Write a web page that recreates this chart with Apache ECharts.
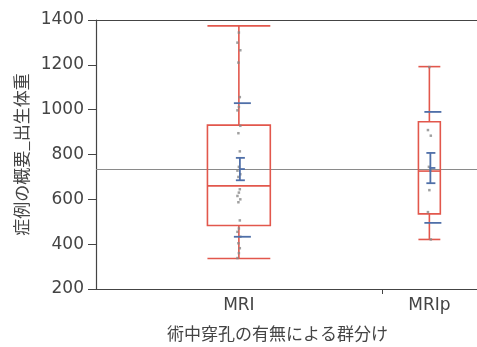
<!DOCTYPE html>
<html><head><meta charset="utf-8">
<script src="https://cdn.jsdelivr.net/npm/echarts@6/dist/echarts.min.js"></script>
<style>html,body{margin:0;padding:0;background:#fff}#c{width:477px;height:347px}</style>
</head><body><div id="c"></div>
<script>
// ---- data ----
const groups = ['MRI', 'MRIp'];
const groupSpan = [30, 10];               // relative group widths on x axis
// [min whisker, q1, median, q3, max whisker]
const boxMRI = [336, 483, 660, 931, 1374];
const boxMRIp = [421, 535, 726, 946, 1192];
const meanVals = [735, 740];
const seLow = [685, 672];
const seHigh = [785, 807];
const sdLow = [433, 495];
const sdHigh = [1029, 990];
const grandMean = 733;
const yTicks = [200, 400, 600, 800, 1000, 1200, 1400];
const pointsMRI = [1344, 1299, 1265, 1210, 1056, 1012, 997, 928, 895, 814, 745, 728, 712, 700, 645, 630, 615, 600, 587, 506, 470, 455, 433, 404, 382, 360, 338];
const pointsMRIp = [1190, 909, 884, 745, 728, 641, 543, 421];

// ---- layout / style ----
const FONT = 'DejaVu Sans';
const CJK = '"Noto Sans CJK JP"';
const RED = '#e2574c';
const BLUE = '#4f6fa8';
const boxWidthUnits = [6.6, 2.3];
const xMax = groupSpan[0] + groupSpan[1];
const centers = [groupSpan[0] / 2, groupSpan[0] + groupSpan[1] / 2];
const boxes = [boxMRI, boxMRIp];
const pointSets = [pointsMRI, pointsMRIp];
const jitter = [0, -0.15, 0.15, -0.05, 0.1];

const boxData = groups.map((g, i) => [centers[i]].concat(boxes[i]).concat([boxWidthUnits[i]]));
const statData = groups.map((g, i) => [centers[i], meanVals[i], seLow[i], seHigh[i], sdLow[i], sdHigh[i]]);
const scatterData = [];
pointSets.forEach((arr, i) => arr.forEach((v, k) => scatterData.push([centers[i] + jitter[k % jitter.length], v])));

function renderBox(params, api) {
  const c = api.value(0), w = api.value(6);
  const pMin = api.coord([c, api.value(1)]);
  const pQ1 = api.coord([c, api.value(2)]);
  const pMed = api.coord([c, api.value(3)]);
  const pQ3 = api.coord([c, api.value(4)]);
  const pMax = api.coord([c, api.value(5)]);
  const left = api.coord([c - w / 2, 0])[0];
  const right = api.coord([c + w / 2, 0])[0];
  const x = pMed[0];
  const st = { stroke: RED, lineWidth: 1.6, fill: null };
  return {
    type: 'group',
    children: [
      { type: 'rect', shape: { x: left, y: pQ3[1], width: right - left, height: pQ1[1] - pQ3[1] }, style: st },
      { type: 'line', shape: { x1: left, y1: pMed[1], x2: right, y2: pMed[1] }, style: st },
      { type: 'line', shape: { x1: x, y1: pQ3[1], x2: x, y2: pMax[1] }, style: st },
      { type: 'line', shape: { x1: x, y1: pQ1[1], x2: x, y2: pMin[1] }, style: st },
      { type: 'line', shape: { x1: left, y1: pMax[1], x2: right, y2: pMax[1] }, style: st },
      { type: 'line', shape: { x1: left, y1: pMin[1], x2: right, y2: pMin[1] }, style: st }
    ]
  };
}

function renderStats(params, api) {
  const c = api.value(0);
  const pm = api.coord([c, api.value(1)]);
  const pl = api.coord([c, api.value(2)]);
  const ph = api.coord([c, api.value(3)]);
  const sl = api.coord([c, api.value(4)]);
  const sh = api.coord([c, api.value(5)]);
  const x = pm[0] + 1;
  const st = { stroke: BLUE, lineWidth: 1.8, fill: null };
  return {
    type: 'group',
    children: [
      { type: 'line', shape: { x1: x, y1: ph[1], x2: x, y2: pl[1] }, style: st },
      { type: 'line', shape: { x1: x - 4, y1: ph[1], x2: x + 5, y2: ph[1] }, style: st },
      { type: 'line', shape: { x1: x - 4, y1: pl[1], x2: x + 5, y2: pl[1] }, style: st },
      { type: 'line', shape: { x1: x - 1, y1: pm[1], x2: x + 5, y2: pm[1] }, style: st },
      { type: 'line', shape: { x1: x - 6, y1: sh[1], x2: x + 11, y2: sh[1] }, style: st },
      { type: 'line', shape: { x1: x - 6, y1: sl[1], x2: x + 11, y2: sl[1] }, style: st }
    ]
  };
}

const chart = echarts.init(document.getElementById('c'), null, { renderer: 'canvas' });
chart.setOption({
  animation: false,
  backgroundColor: '#fff',
  grid: { left: 96, right: 0, top: 20, bottom: 54 },
  xAxis: [{
    type: 'value', min: 0, max: xMax, position: 'bottom',
    splitLine: { show: false },
    axisLine: { lineStyle: { color: '#444', width: 1.2 } },
    axisTick: { show: true, customValues: [groupSpan[0]], length: 5, lineStyle: { color: '#444' } },
    axisLabel: {
      customValues: centers, margin: 8,
      formatter: v => groups[centers.indexOf(v)] || '',
      fontFamily: FONT, fontSize: 17, color: '#444'
    },
    name: '術中穿孔の有無による群分け', nameLocation: 'middle', nameGap: 36,
    nameTextStyle: { fontFamily: CJK, fontSize: 17, color: '#444', padding: [0, 18, 0, 0] }
  }, {
    type: 'value', min: 0, max: xMax, position: 'top',
    splitLine: { show: false }, axisTick: { show: false }, axisLabel: { show: false },
    axisLine: { lineStyle: { color: '#444', width: 1.2 } }
  }],
  yAxis: {
    type: 'value', min: yTicks[0], max: yTicks[yTicks.length - 1], interval: 200,
    splitLine: { show: false },
    axisLine: { show: true, lineStyle: { color: '#444', width: 1.2 } },
    axisTick: { show: true, length: 8, lineStyle: { color: '#444' } },
    axisLabel: { fontFamily: FONT, fontSize: 17, color: '#444', margin: 12, formatter: v => String(v) },
    name: '症例の概要_出生体重', nameLocation: 'middle', nameGap: 66,
    nameTextStyle: { fontFamily: CJK, fontSize: 17, color: '#444' }
  },
  series: [
    {
      type: 'line', data: [[0, grandMean], [xMax, grandMean]], symbol: 'none',
      lineStyle: { color: '#8a8a8a', width: 1.2 }, silent: true, z: 1
    },
    { type: 'custom', renderItem: renderBox, data: boxData, z: 2 },
    {
      type: 'scatter', data: scatterData, symbol: 'rect', symbolSize: 2.5,
      itemStyle: { color: '#888' }, z: 3
    },
    { type: 'custom', renderItem: renderStats, data: statData, z: 4 }
  ]
});
</script></body></html>
